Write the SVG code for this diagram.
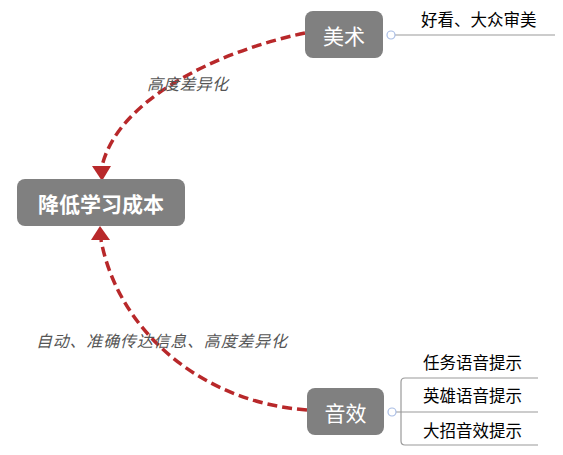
<svg xmlns="http://www.w3.org/2000/svg" width="563" height="455" viewBox="0 0 563 455">
<defs>
<style>
.node{fill:#808080}
.nt{fill:#fff;font-family:"Noto Sans CJK SC","Liberation Sans",sans-serif;font-size:21px;text-anchor:middle;dominant-baseline:central}
.lt{fill:#000;font-family:"Noto Sans CJK SC","Liberation Sans",sans-serif;font-size:16.5px;dominant-baseline:central}
.el{fill:#555;font-family:"Noto Sans CJK SC","Liberation Sans",sans-serif;font-size:16px;font-style:italic;dominant-baseline:central}
.rel{fill:none;stroke:#b8282a;stroke-width:3.5;stroke-dasharray:10 5}
.br{fill:none;stroke:#9a9a9a;stroke-width:1.2}
.dot{fill:#fff;stroke:#a9bde4;stroke-width:1.2}
</style>
</defs>
<g id="connectors">
<path class="rel" d="M305,33 C215,52 118,100 102,166"/>
<path d="M92,166 L111,166 L102,181 z" fill="#b8282a"/>
<path class="rel" d="M307,410 C200,402 118,330 101,240"/>
<path d="M91,240 L110,240 L100,226 z" fill="#b8282a"/>
<path class="br" d="M395,35 H555"/>
<path class="br" d="M538,378 H405 Q401,378 401,382 V441 Q401,445 405,445 H538 M396,412 H538"/>
<circle class="dot" cx="391" cy="35" r="4"/>
<circle class="dot" cx="392" cy="412" r="4"/>
</g>
<g id="label1"><text class="el" x="147" y="83" textLength="81" lengthAdjust="spacing">高度差异化</text></g>
<g id="label2"><text class="el" x="36" y="340" textLength="251" lengthAdjust="spacing">自动、准确传达信息、高度差异化</text></g>
<g id="center">
<rect class="node" x="17" y="179" width="168" height="47" rx="8"/>
<text class="nt" x="101" y="202.5" font-weight="bold">降低学习成本</text>
</g>
<g id="art">
<rect class="node" x="305" y="11" width="78" height="47" rx="8"/>
<text class="nt" x="344" y="34.5">美术</text>
</g>
<g id="sound">
<rect class="node" x="307" y="388" width="77" height="47" rx="8"/>
<text class="nt" x="345.5" y="411.5">音效</text>
</g>
<g id="art-leaf"><text class="lt" x="421" y="19">好看、大众审美</text></g>
<g id="leaf1"><text class="lt" x="423" y="362">任务语音提示</text></g>
<g id="leaf2"><text class="lt" x="423" y="395">英雄语音提示</text></g>
<g id="leaf3"><text class="lt" x="423" y="430">大招音效提示</text></g>
</svg>
